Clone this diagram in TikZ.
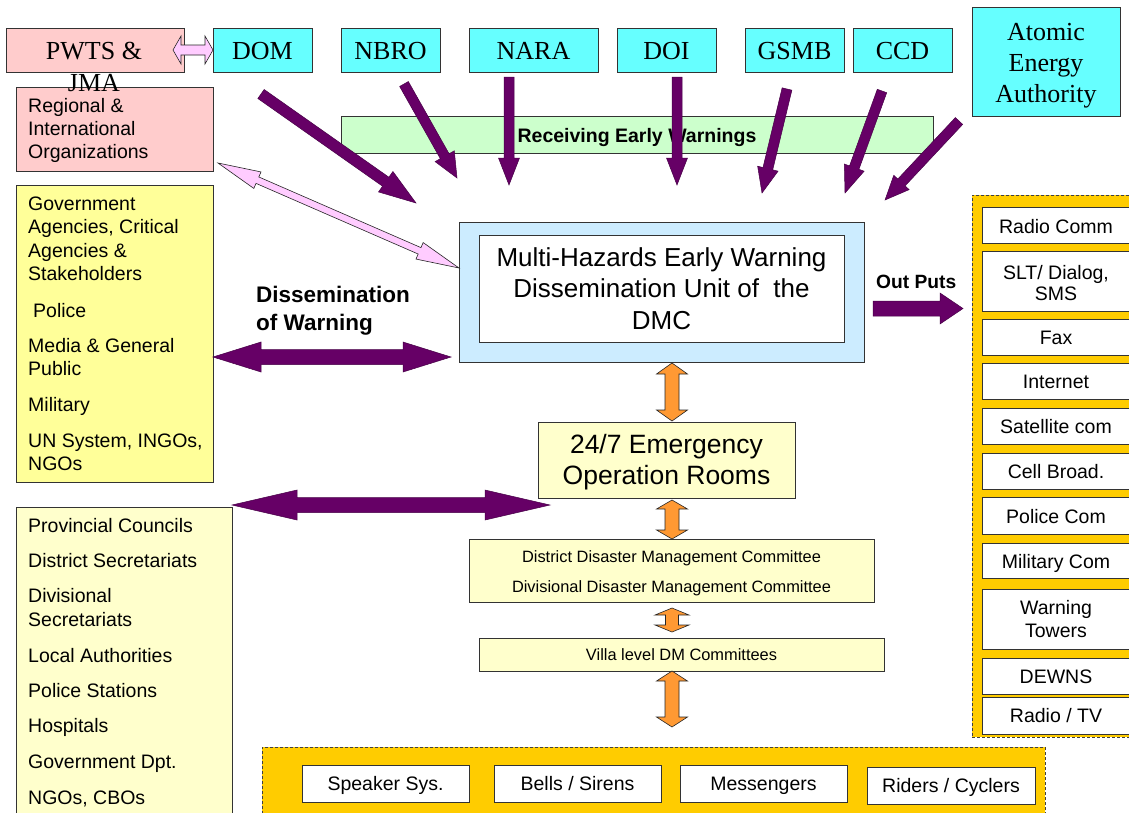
\documentclass[tikz,border=0pt]{standalone}
\usepackage{fontspec}
\setmainfont{Liberation Serif}
\setsansfont{Liberation Sans}

\definecolor{pinkbox}{HTML}{FFCCCC}
\definecolor{pinkarrow}{HTML}{FFCCFF}
\definecolor{cyanbox}{HTML}{66FFFF}
\definecolor{greenbox}{HTML}{CCFFCC}
\definecolor{yellowbox}{HTML}{FFFF99}
\definecolor{creambox}{HTML}{FFFFCC}
\definecolor{bluebox}{HTML}{CCECFF}
\definecolor{goldpanel}{HTML}{FFCC00}
\definecolor{plum}{HTML}{660066}
\definecolor{orangearrow}{HTML}{FF9933}

% block arrow: style, tail, tip, half shaft, half head, head length
\newcommand\blockarrow[6]{%
  \pgfpointanchor{#2}{center}\pgfgetlastxy{\arAx}{\arAy}%
  \pgfpointanchor{#3}{center}\pgfgetlastxy{\arBx}{\arBy}%
  \pgfmathsetmacro\arAng{atan2(\arBy-\arAy,\arBx-\arAx)}%
  \pgfmathsetmacro\arLen{veclen(\arBx-\arAx,\arBy-\arAy)}%
  \pgfmathsetmacro\arNeck{\arLen-#6}%
  \path[#1,shift={(#2)},rotate=\arAng]
    (0pt,#4pt) -- (\arNeck pt,#4pt) -- (\arNeck pt,#5pt) -- (\arLen pt,0pt)
    -- (\arNeck pt,-#5pt) -- (\arNeck pt,-#4pt) -- (0pt,-#4pt) -- cycle;%
}
% double-headed block arrow: style, end A, end B, half shaft, half head, head length
\newcommand\dblarrow[6]{%
  \pgfpointanchor{#2}{center}\pgfgetlastxy{\arAx}{\arAy}%
  \pgfpointanchor{#3}{center}\pgfgetlastxy{\arBx}{\arBy}%
  \pgfmathsetmacro\arAng{atan2(\arBy-\arAy,\arBx-\arAx)}%
  \pgfmathsetmacro\arLen{veclen(\arBx-\arAx,\arBy-\arAy)}%
  \pgfmathsetmacro\arNeck{\arLen-#6}%
  \path[#1,shift={(#2)},rotate=\arAng]
    (0pt,0pt) -- (#6pt,#5pt) -- (#6pt,#4pt) -- (\arNeck pt,#4pt) -- (\arNeck pt,#5pt)
    -- (\arLen pt,0pt) -- (\arNeck pt,-#5pt) -- (\arNeck pt,-#4pt) -- (#6pt,-#4pt)
    -- (#6pt,-#5pt) -- cycle;%
}

\tikzset{
  box/.style={draw=black!80, line width=0.9pt, inner sep=0pt, anchor=north west},
  panel/.style={draw=black!75, line width=0.8pt, dash pattern=on 3pt off 2pt,
    fill=goldpanel, inner sep=0pt, anchor=north west},
  agency/.style={font=\rmfamily\fontsize{26}{31}\selectfont, inner sep=0pt, anchor=base},
  item/.style={font=\sffamily\fontsize{19.5}{23}\selectfont, inner sep=0pt, anchor=base west},
  itemc/.style={font=\sffamily\fontsize{19.5}{23}\selectfont, inner sep=0pt, anchor=base},
  bigc/.style={font=\sffamily\fontsize{26}{31}\selectfont, inner sep=0pt, anchor=base},
  smallc/.style={font=\sffamily\fontsize{16.4}{20}\selectfont, inner sep=0pt, anchor=base},
  boldlbl/.style={font=\sffamily\bfseries\fontsize{22.5}{27}\selectfont, inner sep=0pt, anchor=base west},
  purplearrow/.style={fill=plum, draw=plum!70!black, line width=0.5pt},
  pinkarr/.style={fill=pinkarrow, draw=black!85, line width=0.6pt},
  orangearr/.style={fill=orangearrow, draw=black!85, line width=0.6pt},
}

\begin{document}
\begin{tikzpicture}[x=1pt,y=-1pt]
\useasboundingbox (0,0) rectangle (1129,812);
\clip (0,0) rectangle (1129,812);
\fill[white] (0,0) rectangle (1129,812);

% ---------- warning sources ----------
\node[box, fill=pinkbox, minimum width=178pt, minimum height=44pt] (pwts) at (6,28) {};
\node[box, fill=cyanbox, minimum width=99pt, minimum height=44pt] (dom) at (213,28) {};
\node[box, fill=cyanbox, minimum width=99pt, minimum height=44pt] (nbro) at (341,28) {};
\node[box, fill=cyanbox, minimum width=129pt, minimum height=44pt] (nara) at (469,28) {};
\node[box, fill=cyanbox, minimum width=99pt, minimum height=44pt] (doi) at (617,28) {};
\node[box, fill=cyanbox, minimum width=99pt, minimum height=44pt] (gsmb) at (745,28) {};
\node[box, fill=cyanbox, minimum width=99pt, minimum height=44pt] (ccd) at (853,28) {};
\node[box, fill=cyanbox, minimum width=148pt, minimum height=109pt] (atomic) at (972,7) {};

\node[agency] (pwtsA) at (94,59) {PWTS \&};
\node[agency] (domL) at (262.5,59) {DOM};
\node[agency] (nbroL) at (390.5,59) {NBRO};
\node[agency] (naraL) at (533.5,59) {NARA};
\node[agency] (doiL) at (666.5,59) {DOI};
\node[agency] (gsmbL) at (794.5,59) {GSMB};
\node[agency] (ccdL) at (902.5,59) {CCD};
\node[agency] (atomA) at (1046,40) {Atomic};
\node[agency] (atomB) at (1046,71) {Energy};
\node[agency] (atomC) at (1046,102) {Authority};

% ---------- regional organisations ----------
\node[box, fill=pinkbox, minimum width=197pt, minimum height=84pt] (regional) at (16,87) {};
\node[item] (regA) at (28,112) {Regional \&};
\node[item] (regB) at (28,135) {International};
\node[item] (regC) at (28,158) {Organizations};
\node[agency] (pwtsB) at (94,91) {JMA};

% ---------- receiving band ----------
\node[box, fill=greenbox, minimum width=592pt, minimum height=37pt] (recv) at (341,116) {};
\node[font=\sffamily\bfseries\fontsize{19.5}{23}\selectfont, inner sep=0pt, anchor=base] (recvL) at (637,142) {Receiving Early Warnings};

% ---------- national stakeholders ----------
\node[box, fill=yellowbox, minimum width=197pt, minimum height=297pt] (govt) at (16,185) {};
\node[item] (gA) at (28,210) {Government};
\node[item] (gB) at (28,233) {Agencies, Critical};
\node[item] (gC) at (28,257) {Agencies \&};
\node[item] (gD) at (28,280) {Stakeholders};
\node[item] (gE) at (33,317) {Police};
\node[item] (gF) at (28,352) {Media \& General};
\node[item] (gG) at (28,375) {Public};
\node[item] (gH) at (28,411) {Military};
\node[item] (gI) at (28,447) {UN System, INGOs,};
\node[item] (gJ) at (28,470) {NGOs};

\node[boldlbl] (dissA) at (256,302) {Dissemination};
\node[boldlbl] (dissB) at (256,330) {of Warning};

% ---------- dissemination unit ----------
\node[box, fill=bluebox, minimum width=405pt, minimum height=140pt] (mhew) at (459,222) {};
\node[box, fill=white, minimum width=365pt, minimum height=107pt] (mhewIn) at (479,235) {};
\node[bigc] (mA) at (661.5,266) {Multi-Hazards Early Warning};
\node[bigc] (mB) at (661.5,297.5) {Dissemination Unit of\ \ the};
\node[bigc] (mC) at (661.5,329) {DMC};

\node[font=\sffamily\bfseries\fontsize{19.2}{23}\selectfont, inner sep=0pt, anchor=base west] (outL) at (876,288) {Out Puts};

% ---------- operation chain ----------
\node[box, fill=creambox, minimum width=257pt, minimum height=76pt] (ops) at (538,422) {};
\node[font=\sffamily\fontsize{26.5}{32}\selectfont, inner sep=0pt, anchor=base] (opsA) at (666.5,453) {24/7 Emergency};
\node[font=\sffamily\fontsize{26.5}{32}\selectfont, inner sep=0pt, anchor=base] (opsB) at (666.5,484) {Operation Rooms};

\node[box, fill=creambox, minimum width=405pt, minimum height=63pt] (district) at (469,539) {};
\node[smallc] (dA) at (671.5,562) {District Disaster Management Committee};
\node[smallc] (dB) at (671.5,592) {Divisional Disaster Management Committee};

\node[box, fill=creambox, minimum width=405pt, minimum height=33pt] (villa) at (479,638) {};
\node[smallc] (vA) at (681.5,660) {Villa level DM Committees};

% ---------- local authorities ----------
\node[box, fill=creambox, minimum width=216pt, minimum height=320pt] (prov) at (16,507) {};
\node[item] (pA) at (28,532) {Provincial Councils};
\node[item] (pB) at (28,567) {District Secretariats};
\node[item] (pC) at (28,602) {Divisional};
\node[item] (pD) at (28,626) {Secretariats};
\node[item] (pE) at (28,662) {Local Authorities};
\node[item] (pF) at (28,697) {Police Stations};
\node[item] (pG) at (28,732) {Hospitals};
\node[item] (pH) at (28,768) {Government Dpt.};
\node[item] (pI) at (28,804) {NGOs, CBOs};

% ---------- output channels ----------
\node[panel, minimum width=175pt, minimum height=542pt] (rpanel) at (972,195) {};
\node[box, fill=white, minimum width=148pt, minimum height=36pt] (cRadio) at (982,207) {};
\node[box, fill=white, minimum width=148pt, minimum height=60pt] (cSlt) at (982,251) {};
\node[box, fill=white, minimum width=148pt, minimum height=36pt] (cFax) at (982,319) {};
\node[box, fill=white, minimum width=148pt, minimum height=36pt] (cNet) at (982,363) {};
\node[box, fill=white, minimum width=148pt, minimum height=36pt] (cSat) at (982,408) {};
\node[box, fill=white, minimum width=148pt, minimum height=36pt] (cCell) at (982,453) {};
\node[box, fill=white, minimum width=148pt, minimum height=37pt] (cPol) at (982,497) {};
\node[box, fill=white, minimum width=148pt, minimum height=35pt] (cMil) at (982,543) {};
\node[box, fill=white, minimum width=148pt, minimum height=60pt] (cTow) at (982,589) {};
\node[box, fill=white, minimum width=148pt, minimum height=36pt] (cDew) at (982,658) {};
\node[box, fill=white, minimum width=148pt, minimum height=37pt] (cTv) at (982,697) {};

\node[itemc] (tRadio) at (1056,233) {Radio Comm};
\node[itemc] (tSltA) at (1056,279) {SLT/ Dialog,};
\node[itemc] (tSltB) at (1056,300) {SMS};
\node[itemc] (tFax) at (1056,344) {Fax};
\node[itemc] (tNet) at (1056,388) {Internet};
\node[itemc] (tSat) at (1056,433) {Satellite com};
\node[itemc] (tCell) at (1056,478) {Cell Broad.};
\node[itemc] (tPol) at (1056,523) {Police Com};
\node[itemc] (tMil) at (1056,568) {Military Com};
\node[itemc] (tTowA) at (1056,614) {Warning};
\node[itemc] (tTowB) at (1056,637) {Towers};
\node[itemc] (tDew) at (1056,683) {DEWNS};
\node[itemc] (tTv) at (1056,722) {Radio / TV};

% ---------- community alerting ----------
\node[panel, minimum width=783pt, minimum height=80pt] (bpanel) at (262,747) {};
\node[box, fill=white, minimum width=167pt, minimum height=37pt] (bSpk) at (302,765) {};
\node[box, fill=white, minimum width=167pt, minimum height=37pt] (bBell) at (494,765) {};
\node[box, fill=white, minimum width=167pt, minimum height=37pt] (bMsg) at (680,765) {};
\node[box, fill=white, minimum width=168pt, minimum height=37pt] (bRide) at (867,767) {};
\node[itemc] (tSpk) at (385.5,790) {Speaker Sys.};
\node[itemc] (tBell) at (577.5,790) {Bells / Sirens};
\node[itemc] (tMsg) at (763.5,790) {Messengers};
\node[itemc] (tRide) at (951,792) {Riders / Cyclers};

% ---------- connector end points ----------
\coordinate (domT) at (261,94);   \coordinate (domH) at (416,203);
\coordinate (nbroT) at (404,84);  \coordinate (nbroH) at (457,178);
\coordinate (naraT) at (509,77);  \coordinate (naraH) at (509,185);
\coordinate (doiT) at (677,77);   \coordinate (doiH) at (677,185);
\coordinate (gsmbT) at (787,89);  \coordinate (gsmbH) at (762,193);
\coordinate (ccdT) at (882,91);   \coordinate (ccdH) at (845,193);
\coordinate (atomT) at (959,121); \coordinate (atomH) at (885,200);
\coordinate (outT) at (873,308.5); \coordinate (outH) at (963,308.5);
\coordinate (dissL) at (213,357); \coordinate (dissR) at (451,357);
\coordinate (locL) at (232,505);  \coordinate (locR) at (550,505);
\coordinate (pwtsR) at (173,50);  \coordinate (domLft) at (213,50);
\coordinate (regR) at (218,163);  \coordinate (mhewL) at (459,268);
\coordinate (o1a) at (672,363);   \coordinate (o1b) at (672,421);
\coordinate (o2a) at (672,500);   \coordinate (o2b) at (672,539);
\coordinate (o3a) at (672,608);   \coordinate (o3b) at (672,632);
\coordinate (o4a) at (672,671);   \coordinate (o4b) at (672,727);

% ---------- incoming warnings ----------
\blockarrow{purplearrow}{domT}{domH}{5.5}{12.5}{37}
\blockarrow{purplearrow}{nbroT}{nbroH}{5}{11}{25}
\blockarrow{purplearrow}{naraT}{naraH}{5}{10.5}{27}
\blockarrow{purplearrow}{doiT}{doiH}{5}{10.5}{27}
\blockarrow{purplearrow}{gsmbT}{gsmbH}{5}{10.5}{25}
\blockarrow{purplearrow}{ccdT}{ccdH}{5}{10.5}{27}
\blockarrow{purplearrow}{atomT}{atomH}{5}{10.5}{24}

% ---------- outputs and dissemination ----------
\blockarrow{purplearrow}{outT}{outH}{7.5}{15.5}{23}
\dblarrow{purplearrow}{dissL}{dissR}{7.5}{15}{48}
\dblarrow{purplearrow}{locL}{locR}{7.5}{15}{65}

% ---------- two-way links ----------
\dblarrow{pinkarr}{pwtsR}{domLft}{5}{14}{8}
\dblarrow{pinkarr}{regR}{mhewL}{3.5}{9}{43}

\dblarrow{orangearr}{o1a}{o1b}{7}{15.5}{11}
\dblarrow{orangearr}{o2a}{o2b}{7}{15.5}{9}
\dblarrow{orangearr}{o3a}{o3b}{6.5}{17}{7}
\dblarrow{orangearr}{o4a}{o4b}{7}{15.5}{10}
\end{tikzpicture}
\end{document}
